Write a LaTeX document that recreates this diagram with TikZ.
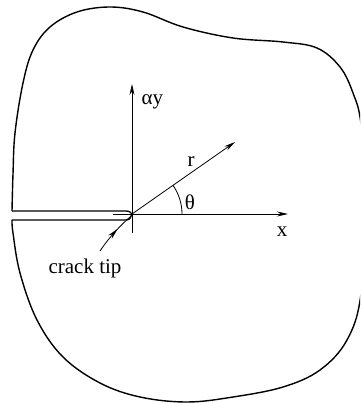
\documentclass[tikz,border=0pt]{standalone}
\usepackage{fontspec}
\setmainfont{Liberation Serif}
\usetikzlibrary{arrows.meta, decorations.markings}

\begin{document}
\begin{tikzpicture}[x=1pt, y=1pt, font=\fontsize{21}{24}\selectfont,
    axis/.style={line width=0.8pt, -{Stealth[length=11pt, width=5pt]}},
    body/.style={line width=1.4pt, line join=round}]
  \useasboundingbox (-132,-189) rectangle (228,214);
  \clip (-132,-189) rectangle (228,214);
  \coordinate (O) at (0,0);
  % Outer boundary of the body, open at the crack mouth
  \draw[body] plot[smooth, tension=0.6] coordinates {
      (-120,3) (-119,40) (-117,81) (-109,131) (-99,164) (-82,187) (-55,202)
      (-22,207) (11,202) (51,187) (101,176) (151,172) (185,166) (208,147)
      (221,121) (229,90) (234,14) (229,-80) (215,-126) (188,-156) (151,-173)
      (101,-183) (55,-188) (8,-183) (-32,-169) (-69,-143) (-95,-106)
      (-112,-59) (-119,-19) (-120,-6)};
  % Crack faces meeting at the tip
  \draw[body] (-120,3) -- (-6,3) .. controls (-2,3) and (-1,1) .. (O);
  \draw[body] (-120,-6) -- (-6,-6) .. controls (-2,-6) and (-1,-3) .. (O);
  % Axes and polar coordinate
  \coordinate (xend) at (156,0);
  \coordinate (yend) at (0,130);
  \coordinate (rend) at (103,72);
  \draw[line width=0.8pt] (-19,0) -- (O);
  \draw[line width=0.8pt] (0,-19) -- (O);
  \draw[axis] (O) -- (xend);
  \draw[axis] (O) -- (yend);
  \draw[axis] (O) -- (rend);
  \draw[line width=0.8pt] (50,0) arc[start angle=0, end angle=35, radius=50];
  \node (xlab) at (150,-18) {x};
  \node[right] (ylab) at (6,112) {αy};
  \node (rlab) at (59,52) {r};
  \node (thlab) at (58,12) {θ};
  % Crack tip label with pointer
  \node (tiplab) at (-47,-54) {crack tip};
  \draw[line width=0.8pt, decoration={markings,
        mark=at position 0.62 with {\arrow{Stealth[length=11pt, width=5pt]}}},
        postaction={decorate}]
    (-32,-37) .. controls (-22,-22) and (-10,-10) .. (-2,-3);
\end{tikzpicture}
\end{document}
